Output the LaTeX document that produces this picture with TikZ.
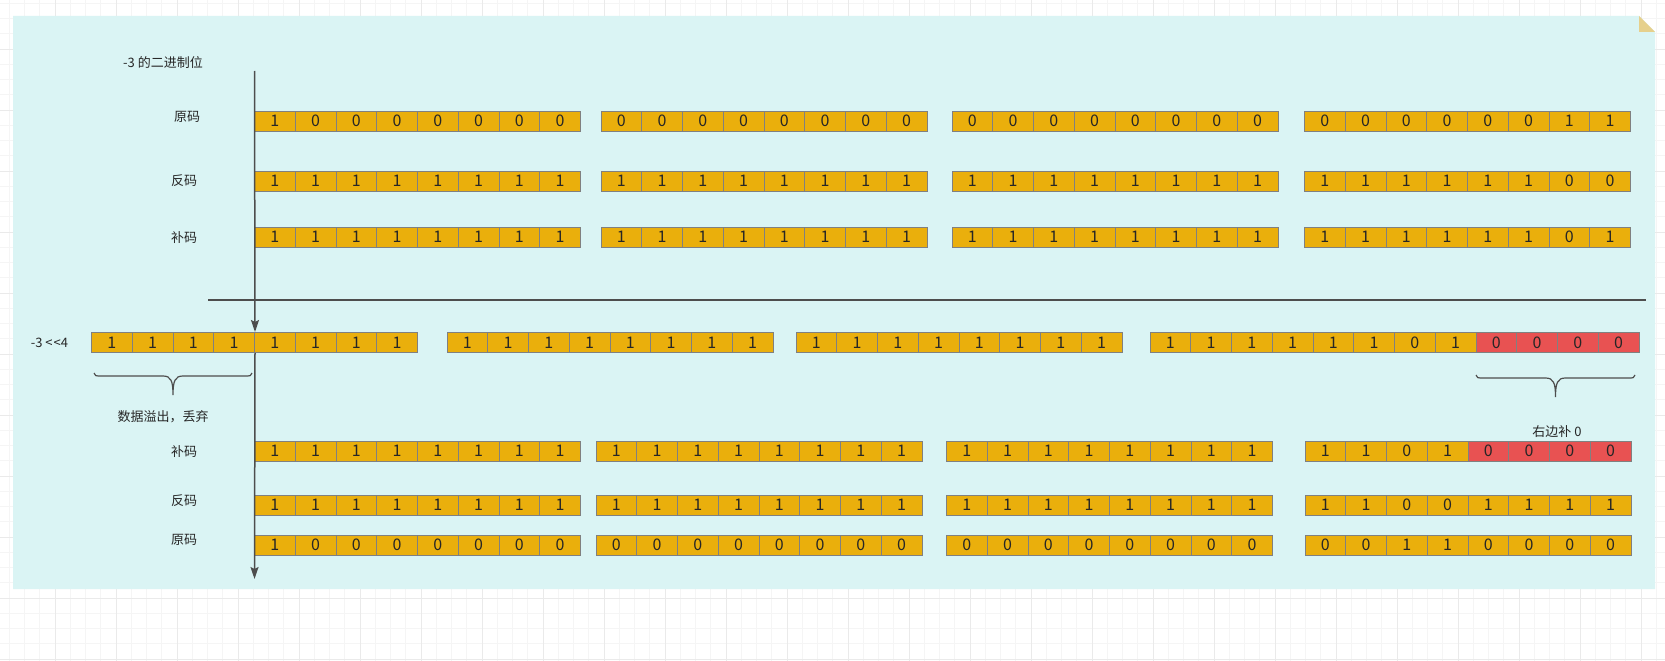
\documentclass[tikz,border=0pt]{standalone}
\usepackage{fontspec}
\setmainfont{Noto Sans CJK SC}
\usepackage{tikz}
\usetikzlibrary{arrows.meta,calc}
\tikzset{>=Stealth}
\definecolor{PanelBG}{HTML}{DAF4F4}
\definecolor{FoldTan}{HTML}{E6D08C}
\definecolor{BitFill}{HTML}{EAAF0C}
\definecolor{BitRed}{HTML}{E85252}
\definecolor{BitEdge}{HTML}{808080}
\definecolor{AxisGray}{HTML}{4D4D4D}
\definecolor{TextDark}{HTML}{262626}
\definecolor{GridMinor}{HTML}{F5F5F5}
\definecolor{GridMajor}{HTML}{EAEAEA}
\newcommand{\bitfont}{\fontsize{16}{18}\selectfont}
\newcommand{\labelfont}{\fontsize{13}{15}\selectfont}
\newcommand{\cellw}{40.75}

\tikzset{
  bitcell/.style={draw=BitEdge, fill=BitFill, line width=1pt, minimum width=40.75pt,
    minimum height=20pt, inner sep=0pt, text=TextDark, font=\bitfont},
  padcell/.style={bitcell, fill=BitRed},
  rowlabel/.style={text=TextDark, font=\labelfont, inner sep=0pt},
  axis/.style={draw=AxisGray, line width=1.5pt, -{Stealth[length=12pt,width=8pt,inset=2pt]}},
  divider/.style={draw=AxisGray, line width=1.5pt},
  bracepath/.style={draw=AxisGray, line width=1.2pt}
}

% #1 style, #2 name, #3 left x, #4 centre y, #5 bits
\newcommand{\bitgroup}[5][bitcell]{%
  \foreach \b [count=\i] in {#5}
    \node[#1] (#2-\i) at ({#3+(\i-0.5)*\cellw}, #4) {\b};
}

% #1 left x, #2 right x, #3 top y
\newcommand{\curlybrace}[3]{%
  \draw[bracepath] ({#1},{#3}) .. controls ({#1+1},{#3+3}) .. ({#1+8},{#3+3})
    -- ({(#1+#2)/2-10},{#3+3}) .. controls ({(#1+#2)/2-2},{#3+3}) and ({(#1+#2)/2},{#3+8}) .. ({(#1+#2)/2},{#3+22})
    .. controls ({(#1+#2)/2},{#3+8}) and ({(#1+#2)/2+2},{#3+3}) .. ({(#1+#2)/2+10},{#3+3})
    -- ({#2-8},{#3+3}) .. controls ({#2-1},{#3+3}) .. ({#2},{#3});
}

\begin{document}
\begin{tikzpicture}[x=1pt,y=-1pt]
  \useasboundingbox (0,0) rectangle (1665,661);
  \fill[white] (0,0) rectangle (1665,661);

  %% canvas grid
  \foreach \k in {0,...,110} \draw[GridMinor, line width=0.8pt] ({-6+15.25*\k},0) -- ++(0,661);
  \foreach \k in {0,...,44} \draw[GridMinor, line width=0.8pt] (0,{-12+15.25*\k}) -- ++(1665,0);
  \foreach \k in {0,...,28} \draw[GridMajor, line width=0.8pt] ({-6+61*\k},0) -- ++(0,661);
  \foreach \k in {0,...,11} \draw[GridMajor, line width=0.8pt] (0,{-12+61*\k}) -- ++(1665,0);

  %% note panel
  \fill[PanelBG] (13,16) -- (1639,16) -- (1655,32) -- (1655,589) -- (13,589) -- cycle;
  \fill[FoldTan] (1639,16) -- (1639,32) -- (1655,32) -- cycle;

  %% -3 before the shift
  \node[rowlabel] (title) at (163,63) {-3 的二进制位};

  \node[rowlabel] (lyuanT) at (187,117) {原码};
  \bitgroup{yuanT1}{254.5}{121}{1,0,0,0,0,0,0,0}
  \bitgroup{yuanT2}{601}{121}{0,0,0,0,0,0,0,0}
  \bitgroup{yuanT3}{952}{121}{0,0,0,0,0,0,0,0}
  \bitgroup{yuanT4}{1304.5}{121}{0,0,0,0,0,0,1,1}

  \node[rowlabel] (lfanT) at (184,181) {反码};
  \bitgroup{fanT1}{254.5}{181}{1,1,1,1,1,1,1,1}
  \bitgroup{fanT2}{601}{181}{1,1,1,1,1,1,1,1}
  \bitgroup{fanT3}{952}{181}{1,1,1,1,1,1,1,1}
  \bitgroup{fanT4}{1304.5}{181}{1,1,1,1,1,1,0,0}

  \node[rowlabel] (lbuT) at (184,238) {补码};
  \bitgroup{buT1}{254.5}{237}{1,1,1,1,1,1,1,1}
  \bitgroup{buT2}{601}{237}{1,1,1,1,1,1,1,1}
  \bitgroup{buT3}{952}{237}{1,1,1,1,1,1,1,1}
  \bitgroup{buT4}{1304.5}{237}{1,1,1,1,1,1,0,1}

  \coordinate (divL) at (208,300);
  \coordinate (divR) at (1646,300);
  \draw[divider] (divL) -- (divR);

  %% shifted left by 4
  \node[rowlabel] (lshift) at (49.5,343) {-3 <\kern1pt<4};
  \bitgroup{shift1}{91.5}{342.5}{1,1,1,1,1,1,1,1}
  \bitgroup{shift2}{447}{342.5}{1,1,1,1,1,1,1,1}
  \bitgroup{shift3}{796}{342.5}{1,1,1,1,1,1,1,1}
  \bitgroup{shift4}{1150}{342.5}{1,1,1,1,1,1,0,1}
  \bitgroup[padcell]{shiftpad}{1476}{342.5}{0,0,0,0}

  \curlybrace{94}{252}{373}
  \node[rowlabel] (lover) at (163,417) {数据溢出，丢弃};
  \curlybrace{1476}{1635}{375}
  \node[rowlabel] (lpad) at (1557,432) {右边补 0};

  %% result
  \node[rowlabel] (lbuB) at (184,452) {补码};
  \bitgroup{buB1}{254.5}{451}{1,1,1,1,1,1,1,1}
  \bitgroup{buB2}{596}{451}{1,1,1,1,1,1,1,1}
  \bitgroup{buB3}{946.5}{451}{1,1,1,1,1,1,1,1}
  \bitgroup{buB4}{1305}{451}{1,1,0,1}
  \bitgroup[padcell]{buBpad}{1468}{451}{0,0,0,0}

  \node[rowlabel] (lfanB) at (184,501) {反码};
  \bitgroup{fanB1}{254.5}{505}{1,1,1,1,1,1,1,1}
  \bitgroup{fanB2}{596}{505}{1,1,1,1,1,1,1,1}
  \bitgroup{fanB3}{946.5}{505}{1,1,1,1,1,1,1,1}
  \bitgroup{fanB4}{1305}{505}{1,1,0,0,1,1,1,1}

  \node[rowlabel] (lyuanB) at (184,540) {原码};
  \bitgroup{yuanB1}{254.5}{545}{1,0,0,0,0,0,0,0}
  \bitgroup{yuanB2}{596}{545}{0,0,0,0,0,0,0,0}
  \bitgroup{yuanB3}{946.5}{545}{0,0,0,0,0,0,0,0}
  \bitgroup{yuanB4}{1305}{545}{0,0,1,1,0,0,0,0}

  %% bit axis
  \coordinate (axtop) at (254.5,71);
  \coordinate (axbot) at (254.5,579);
  \draw[axis] (axtop) -- (shift1-4.north east);
  \draw[axis] (shift1-4.south east) -- (axbot);
\end{tikzpicture}
\end{document}
